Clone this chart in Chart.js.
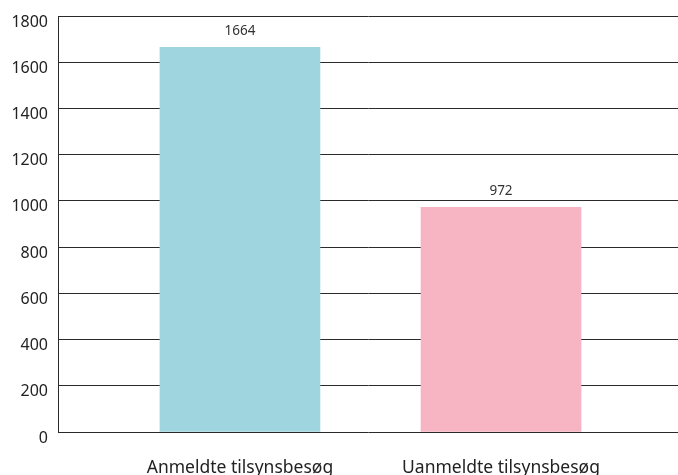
<!DOCTYPE html>
<html><head><meta charset="utf-8">
<script src="https://cdn.jsdelivr.net/npm/chart.js@4/dist/chart.umd.min.js"></script>
<style>html,body{margin:0;padding:0;background:#fff}#wrap{width:678px;height:475px}</style>
</head><body><div id="wrap"><canvas id="c" width="678" height="475"></canvas></div>
<script>
const categories = ["Anmeldte tilsynsbesøg", "Uanmeldte tilsynsbesøg"];
const values = [1664, 972];
const barColors = ["#9fd5de", "#f7b4c3"];
const yTicks = [0, 200, 400, 600, 800, 1000, 1200, 1400, 1600, 1800];

const points = values.map((v, i) => ({x: i, y: v}));

const valueLabels = {
  id: 'valueLabels',
  afterDatasetsDraw(chart) {
    const ctx = chart.ctx;
    const meta = chart.getDatasetMeta(0);
    ctx.save();
    ctx.font = '13.5px "Noto Sans", "Open Sans", sans-serif';
    ctx.fillStyle = '#333';
    ctx.textAlign = 'center';
    ctx.textBaseline = 'middle';
    meta.data.forEach((el, i) => {
      ctx.fillText(String(values[i]), el.x, el.y - 16);
    });
    ctx.restore();
  }
};

new Chart(document.getElementById('c'), {
  type: 'bar',
  data: {
    datasets: [{
      data: points,
      backgroundColor: barColors,
      borderWidth: 0,
      barThickness: 160
    }]
  },
  options: {
    responsive: false,
    animation: false,
    layout: {padding: {top: 16, left: 0, right: 0, bottom: 0}},
    plugins: {legend: {display: false}, tooltip: {enabled: false}},
    scales: {
      x: {
        type: 'linear',
        offset: false,
        min: -0.697,
        max: 1.678,
        grid: {display: false, offset: false},
        border: {display: false},
        afterBuildTicks(scale) { scale.ticks = categories.map((c, i) => ({value: i})); },
        ticks: {
          callback: (v) => categories[v] ?? '',
          color: '#222',
          font: {family: '"Noto Sans", "Open Sans", sans-serif', size: 17.5},
          padding: 18,
          maxRotation: 0,
          autoSkip: false
        },
        afterFit(scale) { scale.height = 43; scale.paddingLeft = 0; scale.paddingRight = 0; }
      },
      y: {
        min: 0,
        max: 1800,
        afterBuildTicks(scale) { scale.ticks = yTicks.map(v => ({value: v})); },
        grid: {color: '#2a2a2a', lineWidth: 1, drawTicks: false},
        border: {display: true, color: '#2a2a2a', width: 1},
        ticks: {
          callback: (v) => String(v),
          color: '#222',
          font: {family: '"Noto Sans", "Open Sans", sans-serif', size: 16},
          padding: 10,
          labelOffset: 6
        },
        afterFit(scale) { scale.width = 58; scale.paddingTop = 0; scale.paddingBottom = 0; }
      }
    }
  },
  plugins: [valueLabels]
});
</script>
</body></html>
